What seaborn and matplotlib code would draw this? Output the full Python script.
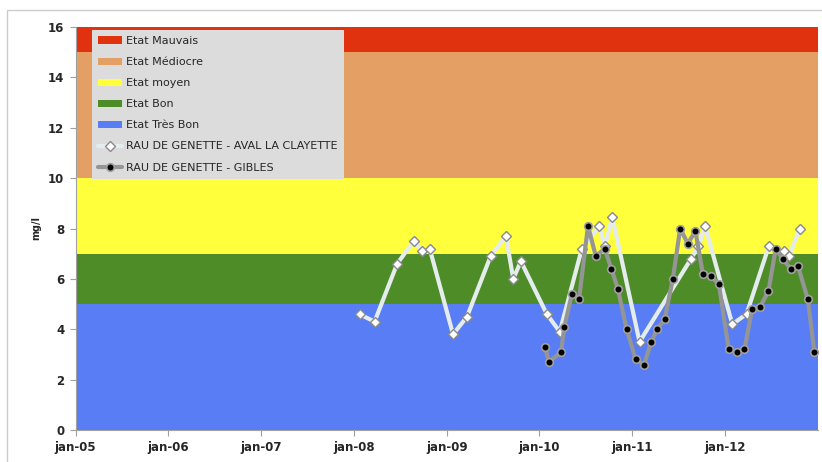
import matplotlib
matplotlib.use("Agg")
import matplotlib.pyplot as plt
from matplotlib.patches import Rectangle
import seaborn as sns
import pandas as pd

# ---------------- data ----------------
band_names = ["Etat Mauvais", "Etat Médiocre", "Etat moyen", "Etat Bon", "Etat Très Bon"]
band_low = [15, 10, 7, 5, 0]
band_high = [16, 15, 10, 7, 5]
band_colors = ["#E1320F", "#E4A064", "#FFFF3C", "#4E8C28", "#587DF5"]

aval_name = "RAU DE GENETTE - AVAL LA CLAYETTE"
aval_dates = ["2008-01-24", "2008-03-23", "2008-06-20", "2008-08-24", "2008-09-26",
              "2008-10-26", "2009-01-26", "2009-03-22", "2009-06-23", "2009-08-22",
              "2009-09-20", "2009-10-20", "2010-01-30", "2010-03-22", "2010-06-17",
              "2010-08-24", "2010-09-15", "2010-10-15", "2011-01-30", "2011-08-21",
              "2011-09-19", "2011-10-15", "2012-01-30", "2012-03-26", "2012-06-22",
              "2012-08-21", "2012-09-09", "2012-10-22"]
aval_values = [4.6, 4.3, 6.6, 7.5, 7.1, 7.2, 3.8, 4.5, 6.9, 7.7, 6.0, 6.7, 4.6, 3.9,
               7.2, 8.1, 7.3, 8.45, 3.5, 6.8, 7.3, 8.1, 4.2, 4.6, 7.3, 7.1, 6.9, 8.0]

gibles_name = "RAU DE GENETTE - GIBLES"
gibles_dates = ["2010-01-22", "2010-02-08", "2010-03-27", "2010-04-09", "2010-05-09",
                "2010-06-06", "2010-07-11", "2010-08-11", "2010-09-15", "2010-10-11",
                "2010-11-06", "2010-12-10", "2011-01-15", "2011-02-17", "2011-03-17",
                "2011-04-09", "2011-05-09", "2011-06-10", "2011-07-09", "2011-08-08",
                "2011-09-07", "2011-10-06", "2011-11-06", "2011-12-08", "2012-01-16",
                "2012-02-18", "2012-03-18", "2012-04-17", "2012-05-19", "2012-06-20",
                "2012-07-19", "2012-08-15", "2012-09-16", "2012-10-15", "2012-11-22",
                "2012-12-18"]
gibles_values = [3.3, 2.7, 3.1, 4.1, 5.4, 5.2, 8.1, 6.9, 7.2, 6.4, 5.6, 4.0, 2.8, 2.6,
                 3.5, 4.0, 4.4, 6.0, 8.0, 7.4, 7.9, 6.2, 6.1, 5.8, 3.2, 3.1, 3.2, 4.8,
                 4.9, 5.5, 7.2, 6.8, 6.4, 6.5, 5.2, 3.1]

year_ticks = ["2005-01-01", "2006-01-01", "2007-01-01", "2008-01-01",
              "2009-01-01", "2010-01-01", "2011-01-01", "2012-01-01"]
year_labels = ["jan-05", "jan-06", "jan-07", "jan-08", "jan-09", "jan-10", "jan-11", "jan-12"]
y_ticks = [0, 2, 4, 6, 8, 10, 12, 14, 16]

# ---------------- figure ----------------
sns.set_theme(style="white")
plt.rcParams["font.family"] = ["DejaVu Sans"]

W, H = 822, 462
fig = plt.figure(figsize=(W / 100, H / 100), dpi=100)
fig.patch.set_facecolor("white")
x0, x1, ytop, ybot = 75.5, 817.9, 27, 430
ax = fig.add_axes([x0 / W, 1 - ybot / H, (x1 - x0) / W, (ybot - ytop) / H])

for name, lo, hi, c in zip(band_names, band_low, band_high, band_colors):
    ax.axhspan(lo, hi, color=c, lw=0, label=name, zorder=0)

df_a = pd.DataFrame({"date": pd.to_datetime(aval_dates), "value": aval_values})
df_g = pd.DataFrame({"date": pd.to_datetime(gibles_dates), "value": gibles_values})

sns.lineplot(data=df_a, x="date", y="value", ax=ax, color="#E4ECEE", lw=3,
             marker="D", markersize=5.5, markerfacecolor="white",
             markeredgecolor="#8A8A8A", markeredgewidth=1.0, label=aval_name,
             zorder=3, clip_on=False)
sns.lineplot(data=df_g, x="date", y="value", ax=ax, color="#959595", lw=3,
             marker="o", markersize=5.5, markerfacecolor="black",
             markeredgecolor="#A0A0A0", markeredgewidth=1.2, label=gibles_name,
             zorder=4, clip_on=False)

ax.set_xlim(pd.Timestamp("2005-01-01"), pd.Timestamp("2013-01-01"))
ax.set_ylim(0, 16)
ax.set_xticks(pd.to_datetime(year_ticks))
ax.set_xticklabels(year_labels, fontsize=8.5, fontweight="bold")
ax.set_yticks(y_ticks)
ax.set_yticklabels([str(v) for v in y_ticks], fontsize=8.5, fontweight="bold")
ax.set_xlabel("")
ax.set_ylabel("mg/l", fontsize=7, fontweight="bold", labelpad=5)
ax.tick_params(axis="both", which="major", length=4, width=0.8, color="#A0A0A0",
               direction="out", pad=4, bottom=True, left=True)
for s in ["top", "right"]:
    ax.spines[s].set_visible(False)
for s in ["left", "bottom"]:
    ax.spines[s].set_color("#A0A0A0")
    ax.spines[s].set_linewidth(0.8)

handles, labels = ax.get_legend_handles_labels()
order = band_names + [aval_name, gibles_name]
hmap = dict(zip(labels, handles))
leg = ax.legend([hmap[l] for l in order], order, loc="upper left",
                bbox_to_anchor=(0.022, 0.993), fontsize=8, frameon=True,
                facecolor="#DCDCDC", edgecolor="none", framealpha=1,
                fancybox=False, handlelength=2.2, handleheight=0.6,
                labelspacing=1.0, borderpad=0.55, handletextpad=0.35,
                borderaxespad=0)
leg.set_zorder(10)

# outer chart frame (partially visible)
fig.patches.append(Rectangle((7 / W, -0.1), 1.2, (H - 10) / H + 0.1, fill=False,
                             edgecolor="#CCCCCC", lw=1, transform=fig.transFigure))

fig.savefig("out.png", dpi=100)
